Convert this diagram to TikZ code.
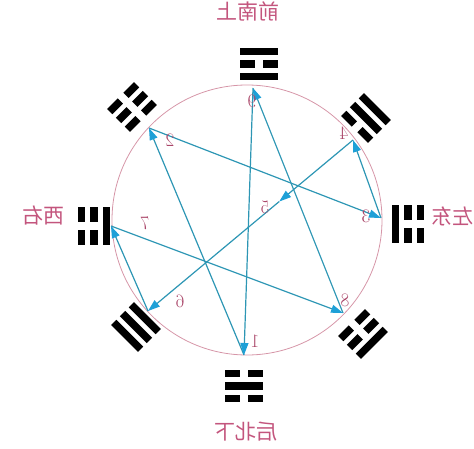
\documentclass[tikz,border=0pt]{standalone}
\usepackage{fontspec}
\usepackage{graphicx}
\newfontfamily\cjk{Noto Sans CJK SC}
\usetikzlibrary{arrows.meta,calc}
\definecolor{circc}{RGB}{214,150,168}
\definecolor{linec}{RGB}{45,150,180}
\definecolor{tipc}{RGB}{30,160,215}
\definecolor{labc}{RGB}{195,85,125}
\definecolor{numc}{RGB}{170,70,105}
\tikzset{
  conn/.style={draw=linec, line width=1.2pt, -{Triangle[length=12pt,width=8pt,color=tipc]}},
  dirlab/.style={text=labc, font=\cjk\fontsize{21}{21}\selectfont, inner sep=0pt},
  numlab/.style={text=numc, font=\fontsize{19}{19}\selectfont, inner sep=0pt},
  ring/.style={draw=circc, line width=0.8pt},
}
% one bar of a trigram: #1 radial offset, #2 = 1 solid / 0 broken
\newcommand{\guabar}[2]{%
  \ifnum#2=1
    \fill (-19,#1-3.75) rectangle (19,#1+3.75);
  \else
    \fill (-19,#1-3.75) rectangle (-4,#1+3.75);
    \fill (4,#1-3.75) rectangle (19,#1+3.75);
  \fi}
% trigram: #1 centre, #2 outward angle, #3 inner, #4 middle, #5 outer
\newcommand{\gua}[5]{%
  \begin{scope}[shift={#1}, rotate=#2-90]
    \guabar{-12.5}{#3}\guabar{0}{#4}\guabar{12.5}{#5}
  \end{scope}}
\begin{document}
\begin{tikzpicture}[x=1pt,y=1pt]
\useasboundingbox (0,0) rectangle (474,448);
% circle
\coordinate (O) at (247,228);
\draw[ring] (O) circle[radius=135];
% points on the circle
\coordinate (t1) at (244,93);
\coordinate (t2) at (149,320);
\coordinate (t3) at (381,230);
\coordinate (t4) at (353,308);
\coordinate (t6) at (148,137);
\coordinate (t7) at (111,222);
\coordinate (t8) at (343,135);
\coordinate (t9) at (253,360);
\coordinate (t5) at ($(t4)!0.36!(t6)$);
% connectors
\draw[conn] (t1) -- (t2);
\draw[conn] (t2) -- (t3);
\draw[conn] (t3) -- (t4);
\draw[conn] (t4) -- (t5);
\draw[conn] (t5) -- (t6);
\draw[conn] (t6) -- (t7);
\draw[conn] (t7) -- (t8);
\draw[conn] (t8) -- (t9);
\draw[conn] (t9) -- (t1);
% numbers (mirrored)
\node[numlab] (n9) at (252,347) {\reflectbox{9}};
\node[numlab] (n2) at (170,308) {\reflectbox{2}};
\node[numlab] (n4) at (344,315) {\reflectbox{4}};
\node[numlab] (n3) at (366,232) {\reflectbox{3}};
\node[numlab] (n5) at (265,241) {\reflectbox{5}};
\node[numlab] (n7) at (145,225) {\reflectbox{7}};
\node[numlab] (n6) at (180,147) {\reflectbox{6}};
\node[numlab] (n8) at (345,148) {\reflectbox{8}};
\node[numlab] (n1) at (255,107) {\reflectbox{1}};
% direction labels (mirrored)
\node[dirlab] (south) at (248,437) {\reflectbox{前南上}};
\node[dirlab] (north) at (246,16) {\reflectbox{后北下}};
\node[dirlab] (west) at (44,232) {\reflectbox{西右}};
\node[dirlab] (east) at (452,232) {\reflectbox{左东}};
% trigrams
\gua{(259,384)}{90}{1}{0}{1}
\gua{(244,62)}{270}{0}{1}{0}
\gua{(94,222)}{180}{1}{0}{0}
\gua{(408,224)}{0}{1}{0}{0}
\gua{(132,341)}{135}{0}{0}{0}
\gua{(366,330)}{45}{0}{1}{1}
\gua{(136,121)}{225}{1}{1}{1}
\gua{(363,114)}{315}{0}{0}{1}
\end{tikzpicture}
\end{document}
